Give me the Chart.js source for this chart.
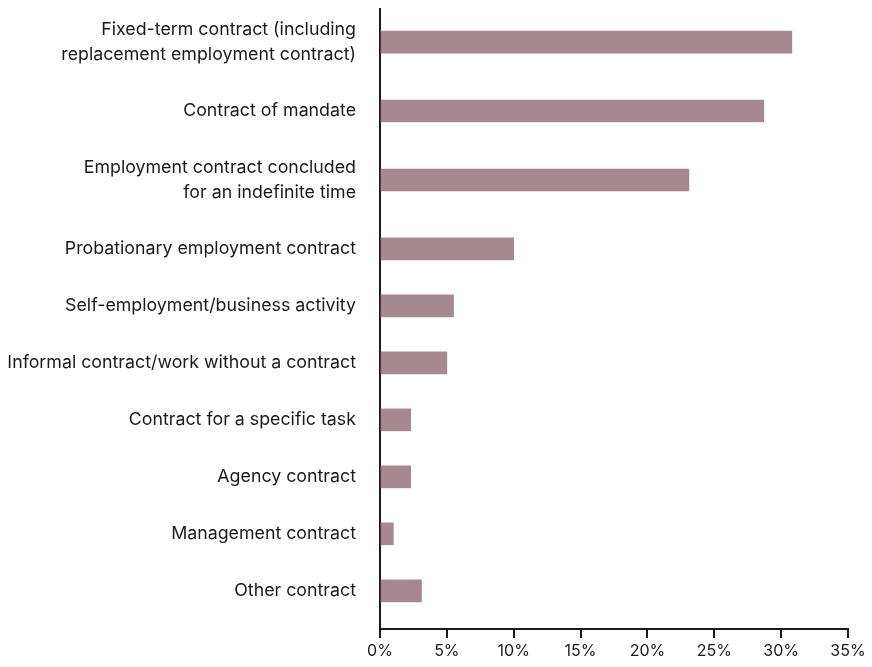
<!DOCTYPE html>
<html>
<head>
<meta charset="utf-8">
<script src="https://cdn.jsdelivr.net/npm/chart.js@4/dist/chart.umd.min.js"></script>
<style>
  html, body { margin: 0; padding: 0; background: #ffffff; }
  #wrap { width: 872px; height: 667px; }
</style>
</head>
<body>
<div id="wrap"><canvas id="contractChart"></canvas></div>
<script>
// categories, top to bottom (each entry = label lines)
const categories = [
    ["Fixed-term contract (including", "replacement employment contract)"],
    ["Contract of mandate"],
    ["Employment contract concluded", "for an indefinite time"],
    ["Probationary employment contract"],
    ["Self-employment/business activity"],
    ["Informal contract/work without a contract"],
    ["Contract for a specific task"],
    ["Agency contract"],
    ["Management contract"],
    ["Other contract"]
];

// share of respondents, %
const shares = [30.8, 28.7, 23.1, 10.0, 5.5, 5.0, 2.3, 2.3, 1.0, 3.1];

const xTicks = [0, 5, 10, 15, 20, 25, 30, 35];

// two-line labels take a bit more room than one-line labels
function halfSlot(lines) {
    return 0.5 + 0.21 * (lines.length - 1);
}

const positions = [];
categories.forEach((lines, i) => {
    if (i === 0) {
        positions.push(0);
    } else {
        positions.push(positions[i - 1] + halfSlot(categories[i - 1]) + halfSlot(lines));
    }
});

const points = shares.map((v, i) => ({ x: v, y: positions[i] }));

const axisColor = '#1a1a1a';
const textColor = '#1a1a1a';

new Chart(document.getElementById('contractChart'), {
    type: 'bar',
    data: {
        datasets: [{
            data: points,
            backgroundColor: '#a68891',
            borderWidth: 0,
            barThickness: 22
        }]
    },
    options: {
        indexAxis: 'y',
        responsive: true,
        maintainAspectRatio: false,
        animation: false,
        layout: {
            padding: { top: 9, right: 24, left: 0, bottom: 0 }
        },
        plugins: {
            legend: { display: false },
            tooltip: { enabled: false }
        },
        scales: {
            y: {
                type: 'linear',
                reverse: true,
                offset: false,
                min: positions[0] - 0.58,
                max: positions[positions.length - 1] + 0.67,
                afterBuildTicks: function (scale) {
                    scale.ticks = positions.map(p => ({ value: p }));
                },
                afterFit: function (scale) {
                    scale.width = 380;
                    scale.paddingTop = 0;
                    scale.paddingBottom = 0;
                },
                grid: { display: false },
                border: { display: true, color: axisColor, width: 2 },
                ticks: {
                    padding: 16,
                    color: textColor,
                    autoSkip: false,
                    font: { family: 'Inter', size: 17.8, lineHeight: 1.4 },
                    callback: function (value) {
                        const idx = positions.findIndex(p => Math.abs(p - value) < 1e-6);
                        return idx >= 0 ? categories[idx] : '';
                    }
                }
            },
            x: {
                type: 'linear',
                min: xTicks[0],
                max: xTicks[xTicks.length - 1],
                afterBuildTicks: function (scale) {
                    scale.ticks = xTicks.map(v => ({ value: v }));
                },
                afterFit: function (scale) {
                    scale.height = 38;
                    scale.paddingLeft = 0;
                    scale.paddingRight = 0;
                },
                grid: {
                    drawOnChartArea: false,
                    drawTicks: true,
                    tickLength: 9,
                    color: axisColor,
                    lineWidth: 2
                },
                border: { display: true, color: axisColor, width: 2 },
                ticks: {
                    padding: 4,
                    color: textColor,
                    font: { family: 'Inter', size: 16 },
                    callback: function (value) {
                        return value + '%';
                    }
                }
            }
        }
    }
});
</script>
</body>
</html>
